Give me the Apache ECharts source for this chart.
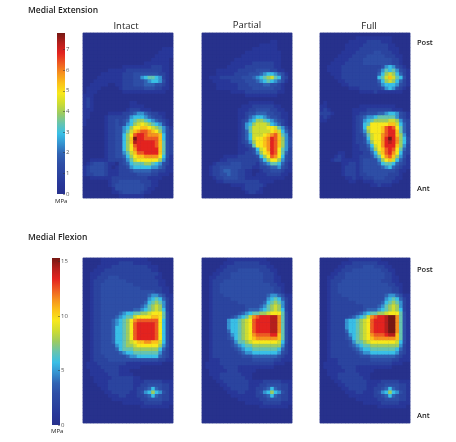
<!DOCTYPE html>
<html>
<head>
<meta charset="utf-8">
<style>html,body{margin:0;padding:0;background:#fff}#chart{width:456px;height:442px}#chart canvas{filter:blur(0.45px)}</style>
<script src="https://cdn.jsdelivr.net/npm/echarts@6/dist/echarts.min.js"></script>
</head>
<body>
<div id="chart"></div>
<script>
// pressure, one string per cell row (top = Post), one char per cell
// char is a level 0..g (0-16), level 16 = top of that row's colour bar
var extIntact = [
"0000000000000000000000000","0000000000000000000000000","0000000000000000000000000","0000000000000000000000000",
"0000000000000000000000111","0000000000000000000001111","0000000000000000000011111","0000000000000000000111110",
"0000000000000000011111110","0000000000011111111222110","0000000111112222222222110","0000011111122233333332210",
"0000111111122233567765210","0001111111122233345665310","0011111001122233344433210","0111100000122222233322110",
"0111000000011111111111100","1110000000000000000000000","1210000000000000000000000","1210000000000110000000000",
"1210000000000111100000000","1110000000001222111000000","1100000111122345543221100","1100001222223566654322100",
"1000001223234678876543210","1000001223235689a98765310","00000012233568aabba987531","00000012233579bcddcba8532",
"0000001223368adeedcccb632","0000001223368bgeeddddb632","0000001223368bfeeeeedb732","0000001223368adeeeeedb732",
"0000001223368aceeeeeeb732","00000012233579bddeeeeb732","00000012233468abbcccca631","001111122223579aaaaaa8521",
"0123332110234677788765321","1233332101223566666554311","1233332111222344444332211","1223332111222223333221110",
"0011111122222222221111000","0000000122333333222110000","0000000123333333322110000","0000000013333333321100000",
"0000000011233333211000000","0000000000111111100000000"];
var extPartial = [
"0000000000000000000000000","0000000000000000000000000","0000000000000000000110000","0000000000000000111110000",
"0000000000000011111110000","0000000000001111111111000","0000000000011111111111000","0000000001111111111111000",
"0000000011111122222211000","0000000111112222222211000","0000111111222223333221100","0000111112222333456654310",
"0011122222233345678976320","0001111122223334567654310","0000111111222333344332100","0000111111222233333322100",
"0000000011112222222221100","0000000000001111111110000","0000000000000000000000000","0000000000000111111100000",
"0000000000011122222211000","0000000000111223333221100","0000000000112334443322110","0000000000112456654332110",
"0000000000123568876543210","0000000000125689998654210","000000000012579999aa97531","0000000000124799999ab9642",
"00000000001246999abcdb752","000000000012469aabcedb853","000000000012358aabcedb853","000000000011237aabcedb853",
"00000000001112369aceda752","00000000001122358abeda742","000000111122222368adca632","0000011222222222468aa8532",
"0001222233322221345776421","0012233333322211223445321","0012234433221100122333211","0012233433221101112222110",
"0001223333221111111111100","0000112222222222111100000","0000000011112222210000000","0000000000012222100000000",
"0000000000001221100000000","0000000000000000000000000"];
var extFull = [
"0000000000000000000000000","0000000000111111111100000","0000000011111222211100000","0000000111112222222110000",
"0000000111122222222111000","0000001111222223322211000","0000011112222333332221100","0000111122223333333322100",
"0001111222223333333322100","0011112222222222235653210","0011112222222222357675321","0001112222222222468986421",
"0000112222222222679b97631","0000011222222222468986421","0000001122222222356665321","0000000011122222235653210",
"0000000000011112111111100","0000000000000000000000000","0000000000000000000000000","0100000000000000000000000",
"1100000000011111111110000","1210000001111222222211100","2221000001122333445665321","1210000001234556777775321",
"1100000001235678888998532","00000000012367aaaaabb9642","00000000012369aaabdeda742","00000000012358aaabdeeb742",
"000000000122479aacdeeb852","000000000122369aacegec863","000000000122358aacefec863","0000000001122469aceeeb852",
"0000000001122358abdeda742","00000110011122469bdeca632","00001210011222357acdb8531","000122111112333358ab96421",
"0000001122123333467764321","0000001222123333345643211","0000001222123333333332110","0000001222122333333222100",
"0000000112112223332221100","0000000011001112222211000","0000000000000011211100000","0000000000000000000000000",
"0000000000000000000000000","0000000000000000000000000"];

var flexIntact = [
"0000011111111111110000000","0000011111222211111000000","0000111122222222221110000","0001112222222222222110000",
"0011122222222222222221000","0011222333222222222211000","0012223333332222222221100","0012233333333322222221100",
"0012233333333333222222110","0012233333333333333322110","0012233333333333334554311","0012233333333333335676421",
"0012233333333333346787521","0012233333333333457898521","0012233333333344567898621","0012233333456677889aaa731",
"001223333456779aaaabba731","0012233345678acdddddda631","0012233345678adeeeeeda631","0012233346678adeeeeeda631",
"0012233346678adeeeeeda631","0012233346678adeeeeeda631","0012233346678adeeeeeda631","00122333466789abbccbb9631",
"001223333567889aaaaaa8531","0012233334677788888886421","0012233333456677777775321","0012223333334556666664321",
"0012222333333333333332211","0111222222221111111111000","0111122222111111000000000","0011112222111000000000000",
"0011111222111100000000000","0001111122222211000000000","0001111222222211122222111","0000111222222211223333221",
"0000011222222212234643221","0000001122222112356865321","0000000111221112234643221","0000000011111111223333221",
"0000000000011111122222111","0000000000000000111111110","0000000000000000000000000","0000000000000000000000000",
"0000000000000000000000000","0000000000000000000000000"];
var flexPartial = [
"0000000111111111110000000","0000001112222222111000000","0000011222222222221100000","0000112222333333222110000",
"0001122233333333322210000","0011222233333333322211000","0012223333333333322211000","0012233333333333333221100",
"0012233333333333333322100","0012233333333333333322100","0012223333333333334554311","0012222233333333335676421",
"0012222222333333346787521","0012222222223333457898521","0012222222223444567898621","0012222222345677889aaa731",
"00122222345679cdeeeffc731","0012222566789adeeeeffc731","0012222566789adeeeeffc731","0012222566789adeeeeffc731",
"0012222466789adeeeeffc731","0012222356789acddddeeb731","0012222346789abccccccb731","00122222357789aaaaaaa9631",
"0012222234567788888888521","0012222223456677777776421","0012222222345566666665321","0012222222233344444443211",
"0011122222222233333322111","0111122222222222222211100","0111112222111111111100000","0011111222111110000000000",
"0011122222211100000000000","0001122222221100000000000","0000112222222111122222111","0000011222222111223333221",
"0000001122222112234643221","0000000111221112356865321","0000000011111112234643221","0000000000111111223333221",
"0000000000001111122222111","0000000000000000111111110","0000000000000000000000000","0000000000000000000000000",
"0000000000000000000000000","0000000000000000000000000"];
var flexFull = [
"0000000011111111100000000","0000001112222222111000000","0000011222223332221100000","0000112223333333322110000",
"0001122333333333332210000","0011222333333333332211000","0012223333333333322211000","0012233333333333333221100",
"0012233333333333333322100","0012233333333333333322100","0012223333333333334554311","0012222233333333335676421",
"0012222222333333346787521","0012222222223333457898521","0012222222223444567898621","0012222222345677889aaa731",
"00122222345679cdeefggc731","0012222566789adeeefggc731","0012222566789adeeefggc731","0012222566789adeeefggc731",
"0012222466789adeeefggc731","0012222356789acdddeffb731","0012222346789abccccccb731","00122222357789aaaaaaa9631",
"0012222234567788888888521","0012222223456677777776421","0012222222345566666665321","0012222222233344444443211",
"0011122222222233333322111","0111122222222222222211100","0111112222111111111100000","0011111222111110000000000",
"0011122222211100000000000","0001122222221100000000000","0000112222222111122222111","0000011222222111223333221",
"0000001122222112234643221","0000000111221112356865321","0000000011111112234643221","0000000000111111223333221",
"0000000000001111122222111","0000000000000000111111110","0000000000000000000000000","0000000000000000000000000",
"0000000000000000000000000","0000000000000000000000000"];

var columnTitles = ['Intact', 'Partial', 'Full'];
var extMax = 7.8;
var flexMax = 15.3;
var barColors = ['#27318c','#283799','#2b449f','#2e4ea6','#3163b3','#3592d0','#39bfe6','#66c4b0','#9ccb62',
                 '#cddc32','#f7e81c','#fbc219','#f6921e','#ee5a22','#e3231f','#b51f1c','#761813'];

var nCols = 25, nRows = 46;
var colLeft = [83, 202, 320];

function cells(rows, max){
    var out = [];
    for (var r = 0; r < nRows; r++) {
        for (var c = 0; c < nCols; c++) {
            var lev = parseInt(rows[r].charAt(c) || '0', 17);
            out.push([c, r, lev / 16 * max]);
        }
    }
    return out;
}

function idx(n){
    var a = [];
    for (var i = 0; i < n; i++) a.push(i);
    return a;
}

var myChart = echarts.init(document.getElementById('chart'));
var font = '"Open Sans", sans-serif';

var grid = [], xAxis = [], yAxis = [], series = [];
function addPanel(left, top, rows, max){
    var i = grid.length;
    grid.push({left: left, top: top, width: 90, height: 165, show: true, backgroundColor: '#27318c', borderColor: '#9a9fc4', borderWidth: 1});
    xAxis.push({gridIndex: i, type: 'category', data: idx(nCols), show: false});
    yAxis.push({gridIndex: i, type: 'category', data: idx(nRows), inverse: true, show: false});
    series.push({type: 'heatmap', xAxisIndex: i, yAxisIndex: i, data: cells(rows, max), silent: true, animation: false, progressive: 0});
}
addPanel(colLeft[0], 33, extIntact, extMax);
addPanel(colLeft[1], 33, extPartial, extMax);
addPanel(colLeft[2], 33, extFull, extMax);
addPanel(colLeft[0], 258, flexIntact, flexMax);
addPanel(colLeft[1], 258, flexPartial, flexMax);
addPanel(colLeft[2], 258, flexFull, flexMax);

// axes next to the colour bars, only there for the tick labels
function addBarAxis(left, top, height, max, step){
    var i = grid.length;
    grid.push({left: left, top: top, width: 8, height: height, z: 5});
    xAxis.push({gridIndex: i, type: 'value', show: false, min: 0, max: 1});
    yAxis.push({gridIndex: i, type: 'value', min: 0, max: max, interval: step, position: 'right', z: 5,
        splitLine: {show: false}, axisLine: {show: false, onZero: false},
        axisTick: {show: true, inside: true, length: 2, lineStyle: {color: '#333', width: 0.5}},
        axisLabel: {fontSize: 6, color: '#555', margin: 1, fontFamily: font, showMaxLabel: false}});
}
addBarAxis(57, 33, 161, extMax, 1);
addBarAxis(52, 258, 167, flexMax, 5);

// the colour bars themselves, same colours as the visualMaps below
function colorBar(left, top, height){
    var stops = barColors.map(function(col, i){
        return {offset: 1 - i / (barColors.length - 1), color: col};
    }).reverse();
    return {type: 'rect', left: left, top: top, z: 1, silent: true,
        shape: {width: 8, height: height},
        style: {fill: new echarts.graphic.LinearGradient(0, 0, 0, 1, stops)}};
}

function label(text, left, top, size, weight, align){
    return {text: text, left: left, top: top, padding: 0, textAlign: align || 'left',
        textStyle: {fontSize: size, fontWeight: weight || 'normal', color: '#222', fontFamily: font}};
}

var option = {
    animation: false,
    title: [
        label('Medial Extension', 28, 6, 8.5, 600),
        label('Medial Flexion', 28, 233, 8.5, 600),
        label(columnTitles[0], 126, 21, 9.5, 'normal', 'center'),
        label(columnTitles[1], 247, 20, 9.5, 'normal', 'center'),
        label(columnTitles[2], 369, 21, 9.5, 'normal', 'center'),
        label('Post', 417, 39, 7.5, 600),
        label('Ant', 417, 185, 7.5, 600),
        label('Post', 417, 266, 7.5, 600),
        label('Ant', 417, 412, 7.5, 600),
        label('MPa', 55, 198, 6),
        label('MPa', 51, 428, 6)
    ],
    grid: grid,
    xAxis: xAxis,
    yAxis: yAxis,
    series: series,
    graphic: [colorBar(57, 33, 161), colorBar(52, 258, 167)],
    visualMap: [
        {type: 'continuous', show: false, min: 0, max: extMax, seriesIndex: [0, 1, 2], inRange: {color: barColors}},
        {type: 'continuous', show: false, min: 0, max: flexMax, seriesIndex: [3, 4, 5], inRange: {color: barColors}}
    ]
};
myChart.setOption(option);
</script>
</body>
</html>
